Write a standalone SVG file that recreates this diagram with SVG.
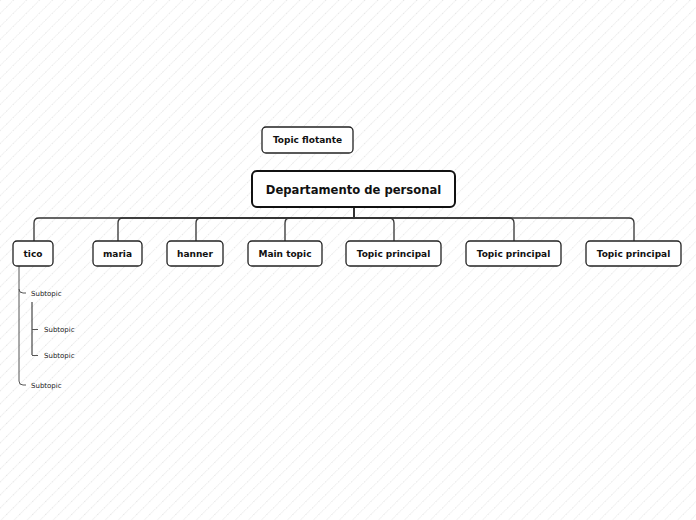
<svg xmlns="http://www.w3.org/2000/svg" width="696" height="520" viewBox="0 0 696 520">
<defs>
<pattern id="bg" width="9.2" height="9.2" patternUnits="userSpaceOnUse" patternTransform="rotate(45)">
<line x1="0.5" y1="0" x2="0.5" y2="9.2" stroke="#dcdcdc" stroke-width="0.7" stroke-dasharray="1 1"/>
</pattern>
</defs>
<style>
.box{fill:#fff;stroke:#222;stroke-width:1.3}
.root{fill:#fff;stroke:#111;stroke-width:2}
.t{font-family:"DejaVu Sans",Verdana,sans-serif;font-weight:bold;font-size:9px;fill:#111;text-anchor:middle;dominant-baseline:central}
.rt{font-size:11.6px}
.s{font-family:"DejaVu Sans",Verdana,sans-serif;font-size:7px;fill:#222;dominant-baseline:central}
.c{fill:none;stroke:#333;stroke-width:1.3}
.sc{fill:none;stroke:#555;stroke-width:1}
.sd{fill:none;stroke:#222;stroke-width:1}
</style>
<rect width="696" height="520" fill="#fff"/>
<rect width="696" height="520" fill="url(#bg)"/>
<g id="connectors">
<path class="c" d="M354 207V218H39Q34 218 34 223V241"/>
<path class="c" d="M354 207V218H123Q118 218 118 223V241"/>
<path class="c" d="M354 207V218H201Q196 218 196 223V241"/>
<path class="c" d="M354 207V218H290Q285 218 285 223V241"/>
<path class="c" d="M354 207V218H389Q394 218 394 223V241"/>
<path class="c" d="M354 207V218H509Q514 218 514 223V241"/>
<path class="c" d="M354 207V218H629Q634 218 634 223V241"/>
<path class="sc" d="M19 266V289Q19 293 23 293H26"/>
<path class="sc" d="M19 289V381Q19 385 23 385H26"/>
<path class="sd" d="M32 302V355"/>
<path class="sc" d="M32 329.5H38M32 355.5H38"/>
</g>
<g id="floating"><rect class="box" x="262" y="127" width="91" height="26" rx="4"/><text class="t" x="307.5" y="140">Topic flotante</text></g>
<g id="root"><rect class="root" x="252" y="171" width="203" height="36" rx="5"/><text class="t rt" x="353.5" y="189.5">Departamento de personal</text></g>
<g id="tico"><rect class="box" x="13" y="241" width="40" height="25" rx="4"/><text class="t" x="33" y="253.5">tico</text></g>
<g id="maria"><rect class="box" x="93" y="241" width="49" height="25" rx="4"/><text class="t" x="117.5" y="253.5">maria</text></g>
<g id="hanner"><rect class="box" x="167" y="241" width="56" height="25" rx="4"/><text class="t" x="195" y="253.5">hanner</text></g>
<g id="main"><rect class="box" x="248" y="241" width="74" height="25" rx="4"/><text class="t" x="285" y="253.5">Main topic</text></g>
<g id="tp1"><rect class="box" x="346" y="241" width="95" height="25" rx="4"/><text class="t" x="393.5" y="253.5">Topic principal</text></g>
<g id="tp2"><rect class="box" x="466" y="241" width="95" height="25" rx="4"/><text class="t" x="513.5" y="253.5">Topic principal</text></g>
<g id="tp3"><rect class="box" x="586" y="241" width="95" height="25" rx="4"/><text class="t" x="633.5" y="253.5">Topic principal</text></g>
<g id="sub1"><text class="s" x="31" y="294">Subtopic</text></g>
<g id="sub1a"><text class="s" x="44" y="330">Subtopic</text></g>
<g id="sub1b"><text class="s" x="44" y="356">Subtopic</text></g>
<g id="sub2"><text class="s" x="31" y="386">Subtopic</text></g>
</svg>
